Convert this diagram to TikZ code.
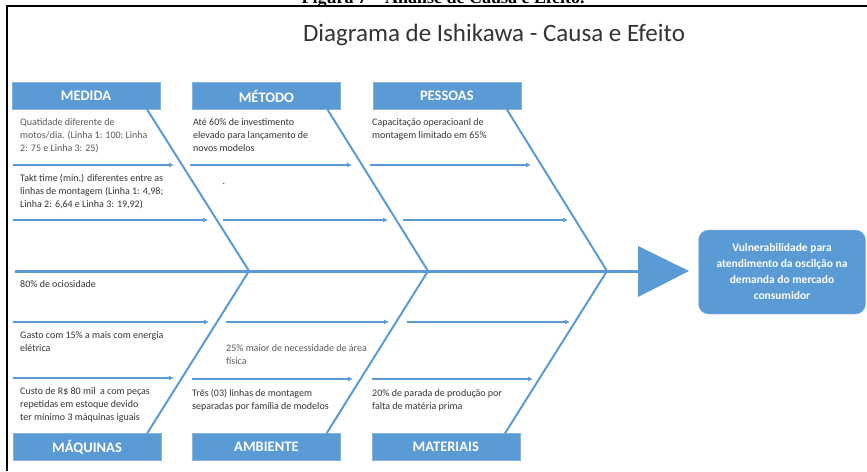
\documentclass[tikz,border=0pt]{standalone}
\usepackage{fontspec}
\setmainfont{Carlito}
\newfontfamily\legendafont{Liberation Serif}
\usetikzlibrary{positioning, arrows.meta}
\definecolor{ishiBlue}{HTML}{5B9BD5}
\definecolor{textoEscuro}{HTML}{333333}
\definecolor{textoCinza}{HTML}{595959}

\begin{document}
\begin{tikzpicture}[x=1pt, y=-1pt,
    categoria/.style={fill=ishiBlue, draw=ishiBlue!75!white, text=white,
          font=\fontsize{14.5}{16}\selectfont\bfseries,
          minimum width=148pt, minimum height=27pt, inner sep=0pt},
    causa/.style={anchor=north west, inner sep=0pt, align=left,
          text=textoEscuro, font=\fontsize{10}{13}\selectfont},
    espinha/.style={draw=ishiBlue, line width=2pt},
    seta/.style={draw=ishiBlue, line width=1.2pt, -{Latex[length=5pt, width=5pt]}}]
  \useasboundingbox (0,0) rectangle (867,471);

  % moldura e legenda cortada
  \node[font=\legendafont\bfseries\fontsize{18}{20}\selectfont, anchor=base] (legenda) at (443,4)
    {Figura 7 – Análise de Causa e Efeito.};
  \draw[line width=2pt] (7,471) -- (7,6) -- (867,6);

  \node[font=\fontsize{25}{30}\selectfont, text=textoEscuro] (titulo) at (494,35)
    {Diagrama de Ishikawa - Causa e Efeito};

  % categorias
  \node[categoria] (medida) at (86,96) {MEDIDA};
  \node[categoria, right=32pt of medida] (metodo) {MÉTODO};
  \node[categoria, right=32pt of metodo] (pessoas) {PESSOAS};
  \node[categoria] (maquinas) at (87,447) {MÁQUINAS};
  \node[categoria, right=31pt of maquinas] (ambiente) {AMBIENTE};
  \node[categoria, right=31pt of ambiente] (materiais) {MATERIAIS};

  % efeito
  \node[fill=ishiBlue, draw=ishiBlue!70!white, rounded corners=10pt, text=white,
        minimum width=167pt, minimum height=84pt, align=center,
        font=\fontsize{11.5}{16}\selectfont\bfseries] (efeito) at (782,272)
    {Vulnerabilidade para\\atendimento da oscilção na\\demanda do mercado\\consumidor};
  \fill[ishiBlue] (638,246) -- (689,271) -- (638,297) -- cycle;
  \coordinate (cabeca) at (639,271);
  \coordinate (inicio) at (15,271);
  \coordinate (j1) at (249,271);
  \coordinate (j2) at (428,271);
  \coordinate (j3) at (607,271);

  % espinha principal e ossos
  \draw[espinha, line width=3pt] (inicio) -- (cabeca);
  \draw[espinha] ([xshift=-13pt]medida.south east) -- (j1);
  \draw[espinha] ([xshift=-13pt]metodo.south east) -- (j2);
  \draw[espinha] ([xshift=-14pt]pessoas.south east) -- (j3);
  \draw[espinha] ([xshift=-14pt]maquinas.north east) -- (j1);
  \draw[espinha] ([xshift=-14pt]ambiente.north east) -- (j2);
  \draw[espinha] ([xshift=-15pt]materiais.north east) -- (j3);

  % setas das causas
  \draw[seta] (13,165) -- (174,165);
  \draw[seta] (190,165) -- (352,165);
  \draw[seta] (370,165) -- (531,165);
  \draw[seta] (13,220) -- (208,220);
  \draw[seta] (223,220) -- (388,220);
  \draw[seta] (403,220) -- (568,220);
  \draw[seta] (13,322) -- (209,322);
  \draw[seta] (226,322) -- (389,322);
  \draw[seta] (407,322) -- (570,322);
  \draw[seta] (13,378) -- (174,378);
  \draw[seta] (192,379) -- (353,379);
  \draw[seta] (372,379) -- (533,379);

  % causas
  \node[causa, text=textoCinza] (c1) at (20,118)
    {Quatidade diferente de\\motos/dia. (Linha 1: 100; Linha\\2: 75 e Linha 3: 25)};
  \node[causa] (c2) at (20,174)
    {Takt time (min.) diferentes entre as\\linhas de montagem (Linha 1: 4,98;\\Linha 2: 6,64 e Linha 3: 19,92)};
  \node[causa] (c3) at (193,118)
    {Até 60\% de investimento\\elevado para lançamento de\\novos modelos};
  \node[causa, anchor=base] (ponto) at (224,184) {.};
  \node[causa] (c4) at (372,118)
    {Capacitação operacioanl de\\montagem limitado em 65\%};
  \node[causa] (c5) at (20,280) {80\% de ociosidade};
  \node[causa] (c6) at (20,331)
    {Gasto com 15\% a mais com energia\\elétrica};
  \node[causa] (c7) at (20,387)
    {Custo de R\$ 80 mil\ \ a com peças\\repetidas em estoque devido\\ter mínimo 3 máquinas iguais};
  \node[causa, text=textoCinza] (c8) at (226,344)
    {25\% maior de necessidade de área\\física};
  \node[causa] (c9) at (192,389)
    {Três (03) linhas de montagem\\separadas por família de modelos};
  \node[causa] (c10) at (372,389)
    {20\% de parada de produção por\\falta de matéria prima};
\end{tikzpicture}
\end{document}
